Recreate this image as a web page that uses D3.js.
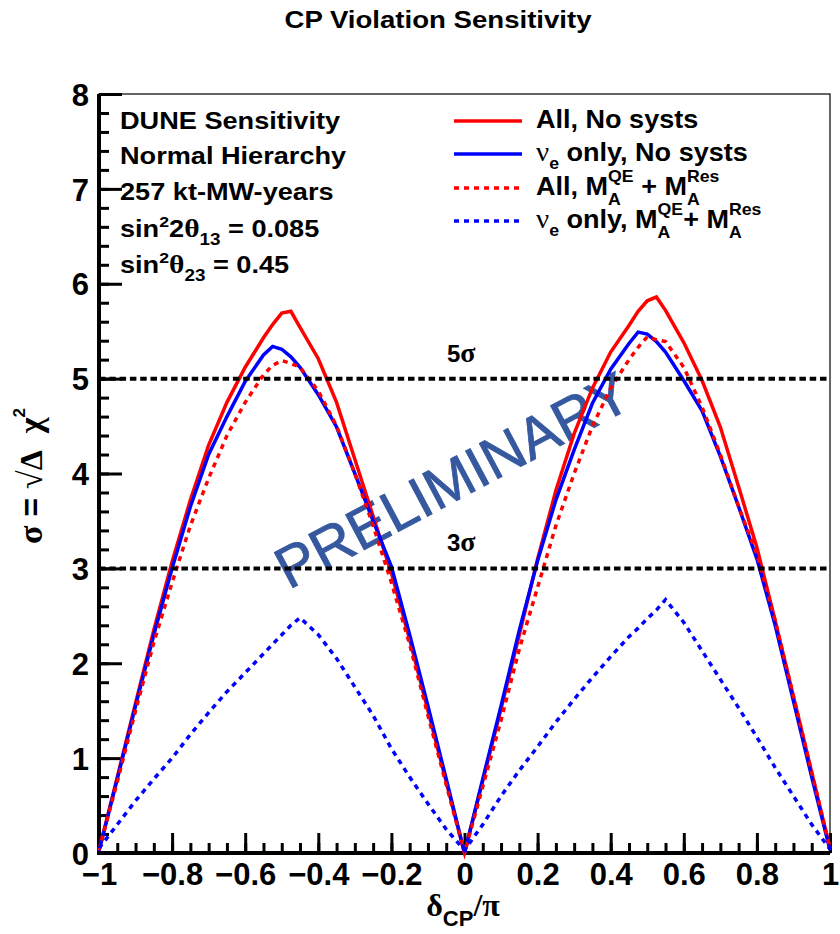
<!DOCTYPE html>
<html>
<head>
<meta charset="utf-8">
<script src="https://cdn.jsdelivr.net/npm/d3@7"></script>
<style>
  body { margin: 0; background: #fff; }
  svg { display: block; }
  text { white-space: pre; }
</style>
</head>
<body>
<svg id="chart" width="840" height="934"></svg>
<script>
// delta_CP / pi sample points
var delta = [-1, -0.95, -0.9, -0.85, -0.8, -0.75, -0.7, -0.65, -0.6, -0.55, -0.525, -0.5, -0.475,
  -0.45, -0.4, -0.35, -0.3, -0.25, -0.2, -0.15, -0.1, -0.05, 0, 0.05, 0.1, 0.15, 0.2, 0.25, 0.3, 0.35, 0.4, 0.45,
  0.475, 0.5, 0.525, 0.55, 0.6, 0.65, 0.7, 0.75, 0.8, 0.85, 0.9, 0.95, 1];

// sigma = sqrt(delta chi2)
var allNoSysts = [0.03, 0.8, 1.58, 2.35, 3.07, 3.72, 4.3, 4.75, 5.12, 5.43, 5.57, 5.69, 5.71,
  5.54, 5.21, 4.75, 4.15, 3.55, 2.95, 2.25, 1.5, 0.75, 0, 0.76, 1.52, 2.3, 3.1, 3.82, 4.42, 4.9, 5.28, 5.56,
  5.71, 5.82, 5.86, 5.72, 5.38, 4.98, 4.49, 3.86, 3.22, 2.45, 1.65, 0.85, 0.05];
var nueNoSysts = [0.02, 0.78, 1.55, 2.3, 3.0, 3.65, 4.2, 4.6, 4.97, 5.25, 5.34, 5.31, 5.23,
  5.12, 4.83, 4.49, 4.0, 3.5, 3.02, 2.3, 1.55, 0.78, 0, 0.78, 1.55, 2.35, 3.08, 3.72, 4.25, 4.74, 5.1, 5.37,
  5.49, 5.47, 5.39, 5.28, 4.98, 4.66, 4.18, 3.65, 3.1, 2.4, 1.6, 0.8, 0.03];
var allMA = [0.03, 0.75, 1.5, 2.22, 2.85, 3.45, 3.95, 4.4, 4.75, 5.04, 5.14, 5.19, 5.16,
  5.12, 4.87, 4.5, 4.0, 3.45, 2.85, 2.2, 1.45, 0.72, 0, 0.7, 1.4, 2.15, 2.8, 3.45, 4.0, 4.5, 4.9, 5.2,
  5.33, 5.44, 5.41, 5.39, 5.12, 4.7, 4.2, 3.65, 3.15, 2.45, 1.65, 0.85, 0.05];
var nueMA = [0.05, 0.3, 0.55, 0.78, 1.0, 1.25, 1.48, 1.7, 1.9, 2.1, 2.2, 2.3, 2.4,
  2.48, 2.3, 2.05, 1.75, 1.45, 1.1, 0.8, 0.52, 0.25, 0.03, 0.3, 0.6, 0.87, 1.12, 1.38, 1.62, 1.85, 2.07, 2.28,
  2.37, 2.47, 2.56, 2.67, 2.43, 2.13, 1.83, 1.53, 1.22, 0.9, 0.6, 0.3, 0.04];

var xTicks = [-1, -0.8, -0.6, -0.4, -0.2, 0, 0.2, 0.4, 0.6, 0.8, 1];
var yTicks = [0, 1, 2, 3, 4, 5, 6, 7, 8];
var sigmaLines = [5, 3];

var SANS = "'Liberation Sans', Arial, Helvetica, sans-serif";
var SERIF = "'Liberation Serif', 'Times New Roman', serif";

var svg = d3.select('#chart');
var x = d3.scaleLinear().domain([-1, 1]).range([99, 830]);
var y = d3.scaleLinear().domain([0, 8]).range([853, 94]);

// text made of pieces (sub/superscripts); "back" stacks a piece over the previous one
function rich(parent, px, py, sx, segs, anchor) {
  var g = parent.append('g').attr('transform', `translate(${px},${py}) scale(${sx},1)`);
  var cx = 0, prevStart = 0, prevEnd = 0;
  segs.forEach(function(s) {
    var start = s.back ? prevStart : cx;
    var t = g.append('text')
      .attr('x', start).attr('y', s.dy || 0)
      .attr('font-size', s.size)
      .attr('font-weight', s.normal ? 'normal' : 'bold')
      .attr('font-family', s.fam || SANS)
      .text(s.t);
    var w = t.node().getComputedTextLength();
    cx = s.back ? Math.max(prevEnd, start + w) : start + w;
    prevStart = start; prevEnd = start + w;
  });
  if (anchor === 'middle') {
    g.selectAll('text').attr('x', function() { return +d3.select(this).attr('x') - cx / 2; });
  }
  return g;
}

// title
rich(svg, 438, 28, 1.2, [{t: 'CP Violation Sensitivity', size: 23}], 'middle');

// watermark
svg.append('text')
  .attr('transform', 'translate(462,498) rotate(-28)')
  .attr('text-anchor', 'middle')
  .attr('font-family', SANS)
  .attr('font-size', 58)
  .attr('fill', '#35589e')
  .attr('stroke', '#35589e')
  .attr('stroke-width', 0.8)
  .text('PRELIMINARY');

// frame
svg.append('rect')
  .attr('x', x(-1)).attr('y', y(8))
  .attr('width', x(1) - x(-1)).attr('height', y(0) - y(8))
  .attr('fill', 'none').attr('stroke', '#000').attr('stroke-width', 1.2);

// axes
var xMinor = d3.axisBottom(x).tickValues(d3.range(-1, 1.0001, 0.05)).tickSize(-10).tickFormat('');
var xMajor = d3.axisBottom(x).tickValues(xTicks).tickSize(-20).tickPadding(10)
  .tickFormat(function(d) { return d3.format('')(d).replace('-', '\u2212'); });
var yMinor = d3.axisLeft(y).tickValues(d3.range(0, 8.0001, 0.2)).tickSize(-10).tickFormat('');
var yMajor = d3.axisLeft(y).tickValues(yTicks).tickSize(-23).tickPadding(10);

[xMinor, xMajor].forEach(function(a) {
  svg.append('g').attr('class', 'xaxis').attr('transform', `translate(0,${y(0)})`).call(a);
});
[yMinor, yMajor].forEach(function(a) {
  svg.append('g').attr('class', 'yaxis').attr('transform', `translate(${x(-1)},0)`).call(a);
});
svg.selectAll('.xaxis .domain, .yaxis .domain').remove();
svg.selectAll('.xaxis .tick line, .yaxis .tick line').attr('stroke', '#000').attr('stroke-width', 3);
svg.selectAll('.xaxis text, .yaxis text')
  .attr('font-family', SANS).attr('font-weight', 'bold').attr('font-size', 31).attr('fill', '#000');
svg.selectAll('.xaxis text').attr('dy', '0.71em');
svg.selectAll('.yaxis text').attr('dy', '0.36em');

svg.append('line').attr('x1', x(-1) - 2).attr('x2', x(1)).attr('y1', y(0)).attr('y2', y(0))
  .attr('stroke', '#000').attr('stroke-width', 4);
svg.append('line').attr('x1', x(-1)).attr('x2', x(-1)).attr('y1', y(0) + 2).attr('y2', y(8))
  .attr('stroke', '#000').attr('stroke-width', 4);

// curves
var series = [
  {vals: allNoSysts, color: '#ff0000', dash: null},
  {vals: nueNoSysts, color: '#0000ff', dash: null},
  {vals: allMA, color: '#ff0000', dash: '5,5'},
  {vals: nueMA, color: '#0000ff', dash: '5,5'}
];
var line = d3.line().x(function(d) { return x(d[0]); }).y(function(d) { return y(d[1]); });
series.forEach(function(s) {
  svg.append('path')
    .datum(delta.map(function(d, i) { return [d, s.vals[i]]; }))
    .attr('d', line)
    .attr('fill', 'none')
    .attr('stroke', s.color)
    .attr('stroke-width', 3.5)
    .attr('stroke-dasharray', s.dash);
});

// 5 sigma / 3 sigma lines
sigmaLines.forEach(function(v) {
  svg.append('line')
    .attr('x1', x(-1)).attr('x2', x(1)).attr('y1', y(v)).attr('y2', y(v))
    .attr('stroke', '#000').attr('stroke-width', 4).attr('stroke-dasharray', '6.5,3.8');
  rich(svg, 447, y(v) - 17, 1, [
    {t: String(v), size: 24},
    {t: '\u03c3', size: 28, fam: SERIF}
  ]);
});

// info text block
var info = svg.append('g');
var bx = 120, lines = [129, 164, 200, 237, 273], fs = 23, sx = 1.18;
rich(info, bx, lines[0], sx, [{t: 'DUNE Sensitivity', size: fs}]);
rich(info, bx, lines[1], sx, [{t: 'Normal Hierarchy', size: fs}]);
rich(info, bx, lines[2], sx, [{t: '257 kt-MW-years', size: fs}]);
rich(info, bx, lines[3], sx, [
  {t: 'sin', size: fs}, {t: '2', size: 15, dy: -10}, {t: '2', size: fs},
  {t: '\u03b8', size: fs + 2, fam: SERIF}, {t: '13', size: 16, dy: 8}, {t: ' = 0.085', size: fs}
]);
rich(info, bx, lines[4], sx, [
  {t: 'sin', size: fs}, {t: '2', size: 15, dy: -10},
  {t: '\u03b8', size: fs + 2, fam: SERIF}, {t: '23', size: 16, dy: 8}, {t: ' = 0.45', size: fs}
]);

// legend
var leg = svg.append('g');
var legRows = [
  {y: 121, color: '#ff0000', dash: null, segs: [{t: 'All, No systs', size: 26}]},
  {y: 154, color: '#0000ff', dash: null, segs: [
    {t: '\u03bd', size: 28, fam: SERIF, normal: true}, {t: 'e', size: 17, dy: 8}, {t: ' only, No systs', size: 26}]},
  {y: 188, color: '#ff0000', dash: '5,5', segs: [
    {t: 'All, M', size: 26}, {t: 'A', size: 17, dy: 10}, {t: 'QE', size: 17, dy: -13, back: true},
    {t: ' + M', size: 26}, {t: 'A', size: 17, dy: 10}, {t: 'Res', size: 17, dy: -13, back: true}]},
  {y: 221, color: '#0000ff', dash: '5,5', segs: [
    {t: '\u03bd', size: 28, fam: SERIF, normal: true}, {t: 'e', size: 17, dy: 8}, {t: ' only, M', size: 26},
    {t: 'A', size: 17, dy: 10}, {t: 'QE', size: 17, dy: -13, back: true},
    {t: '+ M', size: 26}, {t: 'A', size: 17, dy: 10}, {t: 'Res', size: 17, dy: -13, back: true}]}
];
legRows.forEach(function(r) {
  leg.append('line').attr('x1', 454).attr('x2', 522).attr('y1', r.y).attr('y2', r.y)
    .attr('stroke', r.color).attr('stroke-width', 3.5).attr('stroke-dasharray', r.dash);
  rich(leg, 536, r.y + 7, 1.04, r.segs);
});

// axis titles
rich(svg, 463, 916, 1, [
  {t: '\u03b4', size: 32, fam: SERIF}, {t: 'CP', size: 22, dy: 10}, {t: '/\u03c0', size: 32, fam: SERIF}
], 'middle');

var yl = svg.append('g').attr('transform', 'translate(42,476) rotate(-90)');
rich(yl, 0, 0, 1, [
  {t: '\u03c3', size: 34, fam: SERIF}, {t: ' = ', size: 32}, {t: '\u221a', size: 34, fam: SERIF, normal: true},
  {t: '\u0394', size: 32, fam: SERIF}, {t: '  \u03c7', size: 34, fam: SERIF}, {t: '2', size: 17, dy: -17}
], 'middle');
</script>
</body>
</html>
